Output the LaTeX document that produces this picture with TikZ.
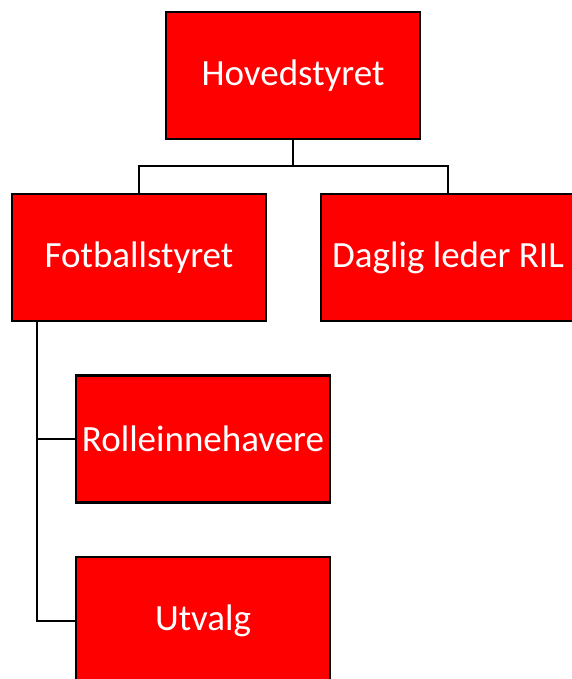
\documentclass[tikz,border=0pt]{standalone}
\usepackage{fontspec}
\setmainfont{Carlito}
\begin{document}
\begin{tikzpicture}[x=1pt,y=-1pt,
  orgbox/.style={draw=black,line width=2.4pt,fill={rgb,255:red,255;green,0;blue,0},
    text=white,font=\fontsize{37}{40}\selectfont,minimum width=254pt,minimum height=127pt,
    inner sep=0pt,anchor=center},
  link/.style={draw=black,line width=2pt}]
\clip (0,0) rectangle (572,679);
\node[orgbox] (hoved) at (293,75.5) {Hovedstyret};
\node[orgbox] (fotball) at (139,257.5) {Fotballstyret};
\node[orgbox] (daglig) at (448,257.5) {Daglig leder RIL};
\node[orgbox] (rolle) at (203,439) {Rolleinnehavere};
\node[orgbox] (utvalg) at (203,620.5) {Utvalg};
\coordinate (split) at (293,166.5);
\coordinate (fbase) at (37,321);
\draw[link] (hoved.south) -- (split) -| (fotball.north);
\draw[link] (split) -| (daglig.north);
\draw[link] (fbase |- fotball.south) |- (utvalg.west);
\draw[link] (fbase |- rolle.west) -- (rolle.west);
\end{tikzpicture}
\end{document}
